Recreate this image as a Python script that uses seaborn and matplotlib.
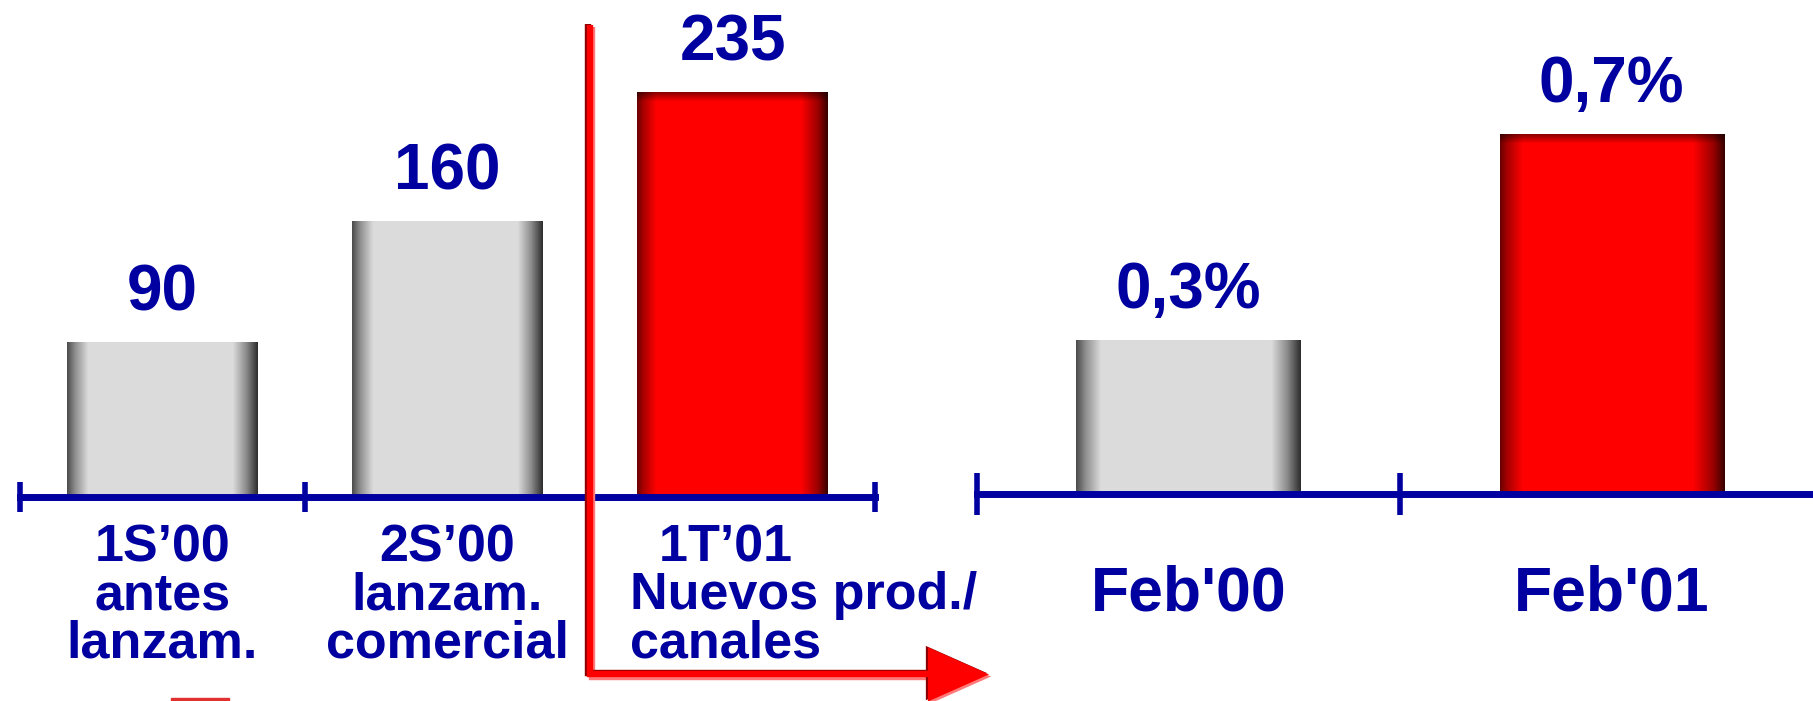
import numpy as np
import matplotlib
matplotlib.use("Agg")
import matplotlib.pyplot as plt
from matplotlib.patches import FancyArrowPatch, Rectangle
from matplotlib.path import Path
from matplotlib import transforms
import seaborn as sns

# data
periods = ["1S’00\nantes\nlanzam.", "2S’00\nlanzam.\ncomercial", "1T’01\nNuevos prod./\ncanales"]
clients = [90, 160, 235]
client_labels = ["90", "160", "235"]
period_kind = ["gray", "gray", "red"]

months = ["Feb'00", "Feb'01"]
share = [0.3, 0.7]
share_labels = ["0,3%", "0,7%"]
month_kind = ["gray", "red"]

BLUE = "#0000A0"
W, H = 1813, 701


def shade(ax, bar, kind):
    # fake the cylinder look of the slide bars with a clipped gradient image
    x0, w, h = bar.get_x(), bar.get_width(), bar.get_height()
    u = np.linspace(0, 1, 300)
    if kind == "gray":
        g = np.interp(u, [0, .04, .11, .87, .94, 1], [.30, .55, .86, .86, .55, .18])
        img = np.stack([g, g, g], axis=-1)[None, :, :]
    else:
        r = np.interp(u, [0, .03, .10, .86, .95, 1], [.42, .65, 1, 1, .6, .22])
        row = np.stack([r, np.zeros_like(r), np.zeros_like(r)], axis=-1)
        pts = ax.transData.transform([(0, 0), (0, h)])
        hpx = abs(pts[1, 1] - pts[0, 1])
        v = np.linspace(0, hpx, 400)
        f = np.interp(v, [0, hpx - 9, hpx], [1, 1, .55])
        img = row[None, :, :] * f[:, None, None]
    im = ax.imshow(img, extent=(x0, x0 + w, 0, h), origin="lower", aspect="auto",
                   interpolation="bilinear", zorder=1.5)
    im.set_clip_path(bar)


def style_axis(ax, edges, tick_len, label_size, pad):
    sns.despine(ax=ax, left=True)
    ax.spines["bottom"].set_color(BLUE)
    ax.spines["bottom"].set_linewidth(5)
    ax.set_yticks([])
    ax.set_xlabel("")
    ax.set_ylabel("")
    ax.grid(False)
    ax.patch.set_alpha(0)
    ax.set_xticks(edges, minor=True)
    ax.tick_params(axis="x", which="minor", bottom=True, direction="inout",
                   length=tick_len, width=4, color=BLUE)
    ax.tick_params(axis="x", which="major", bottom=True, length=0, pad=pad,
                   labelsize=label_size, labelcolor=BLUE)


sns.set_theme(style="white")
plt.rcParams["font.family"] = ["Liberation Sans", "DejaVu Sans"]
plt.rcParams["font.weight"] = "bold"

fig = plt.figure(figsize=(W / 100, H / 100), dpi=100)
ax1 = fig.add_axes([20 / W, 204 / H, 855 / W, 497 / H])
ax2 = fig.add_axes([977 / W, 207 / H, 836 / W, 494 / H])

pal = {"gray": "#DCDCDC", "red": "#FF0000"}

# left panel: clients
sns.barplot(x=periods, y=clients, hue=periods, palette=[pal[k] for k in period_kind],
            width=0.67, errorbar=None, legend=False, linewidth=0, ax=ax1)
ax1.set_xlim(-0.5, 2.5)
ax1.set_ylim(0, 288.5)
for bar, kind in zip(ax1.patches, period_kind):
    shade(ax1, bar, kind)
ax1.set_xlim(-0.5, 2.5)
ax1.set_ylim(0, 288.5)
style_axis(ax1, [-0.5, 0.5, 1.5, 2.5], 21.6, 37.5, 19)
ax1.set_xticks(range(3))
ax1.set_xticklabels(periods[:2] + [""])
for lab in ax1.get_xticklabels():
    lab.set_linespacing(0.97)
    lab.set_fontweight("bold")
ax1.annotate("  " + periods[2], xy=(2, 0), xytext=(-74, -19), textcoords="offset points",
             ha="left", va="top", ma="left", fontsize=37.5, color=BLUE,
             fontweight="bold", linespacing=0.97)
for cont, lab in zip(ax1.containers, client_labels):
    ax1.bar_label(cont, labels=[lab], padding=13.5, fontsize=46, color=BLUE, fontweight="bold")

# right panel: share
sns.barplot(x=months, y=share, hue=months, palette=[pal[k] for k in month_kind],
            width=0.53, errorbar=None, legend=False, linewidth=0, ax=ax2)
ax2.set_xlim(-0.5, 1.476)
ax2.set_ylim(0, 0.961)
for bar, kind in zip(ax2.patches, month_kind):
    shade(ax2, bar, kind)
ax2.set_xlim(-0.5, 1.476)
ax2.set_ylim(0, 0.961)
style_axis(ax2, [-0.5, 0.5], 30, 45, 51)
ax2.set_xticks(range(2))
ax2.set_xticklabels(months)
for lab in ax2.get_xticklabels():
    lab.set_fontweight("bold")
for cont, lab in zip(ax2.containers, share_labels):
    ax2.bar_label(cont, labels=[lab], padding=13.5, fontsize=46, color=BLUE, fontweight="bold")

# red L-shaped arrow separating the new period, drawn with a cheap bevel
for color, dx, dy in [("#FF7A7A", 1.5, -1.5), ("#8B0000", -1.5, 1.0), ("#FF0000", 0, 0)]:
    tr = transforms.offset_copy(ax1.transData, fig=fig, x=dx, y=dy, units="points")
    arr = FancyArrowPatch(path=Path([(1.5, 274), (1.5, -103), (2.9, -103)]),
                          arrowstyle="-|>,head_length=0.36,head_width=0.16",
                          mutation_scale=100, lw=4.6, color=color, transform=tr,
                          joinstyle="miter", capstyle="butt", zorder=5)
    fig.add_artist(arr)

# bit of a swatch cut off at the bottom edge of the slide
fig.add_artist(Rectangle((171 / W, 0), 58 / W, 3 / H, transform=fig.transFigure,
                         color="#E03030"))

fig.savefig("out.png", dpi=100)
